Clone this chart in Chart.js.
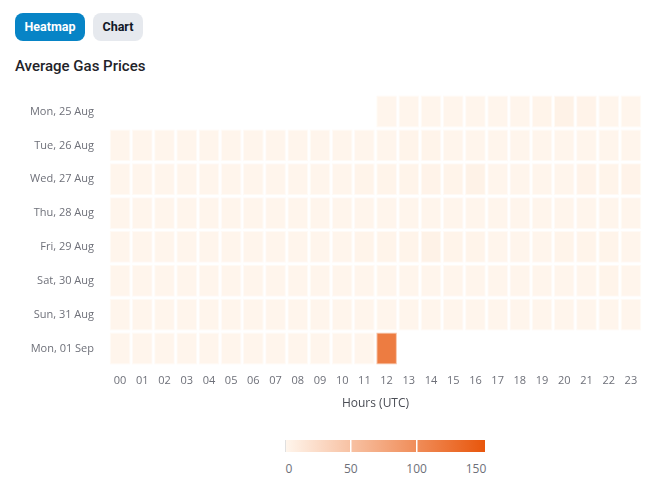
<!DOCTYPE html>
<html>
<head>
<meta charset="utf-8">
<script src="https://cdn.jsdelivr.net/npm/chart.js@4.4.1/dist/chart.umd.min.js"></script>
<style>
  html, body { margin: 0; padding: 0; background: #fff; }
  body { width: 668px; height: 500px; position: relative; overflow: hidden; font-family: Roboto, sans-serif; }
  .btn { position: absolute; top: 13px; height: 28px; border-radius: 8px; font: 700 12.5px Roboto, sans-serif; line-height: 28px; text-align: center; }
  #b1 { left: 15px; width: 70px; background: #0784c6; color: #fff; }
  #b2 { left: 93px; width: 50px; background: #e6e9ee; color: #111827; }
  #title { position: absolute; left: 15px; top: 57px; font: 500 15px Roboto, sans-serif; color: #1f2329; }
  #wrap { position: absolute; left: 0; top: 73px; width: 668px; height: 342px; }
  #legend { position: absolute; left: 285px; top: 440px; width: 200px; height: 12px; }
  .lab { position: absolute; top: 460px; font: 12px "Open Sans", sans-serif; color: #6e7079; transform: translateX(-50%); }
</style>
</head>
<body>
<div class="btn" id="b1">Heatmap</div>
<div class="btn" id="b2">Chart</div>
<div id="title">Average Gas Prices</div>
<div id="wrap"><canvas id="c" width="668" height="342"></canvas></div>
<canvas id="legend" width="200" height="12"></canvas>
<div id="legendLabels"></div>
<script>
const hours = ["00","01","02","03","04","05","06","07","08","09","10","11","12","13","14","15","16","17","18","19","20","21","22","23"];
const days = ["Mon, 25 Aug","Tue, 26 Aug","Wed, 27 Aug","Thu, 28 Aug","Fri, 29 Aug","Sat, 30 Aug","Sun, 31 Aug","Mon, 01 Sep"];
const N = null;
const mon25 = [N,N,N,N,N,N,N,N,N,N,N,N, 1,1,1,1,1,1,1,2,4,3,1,1];
const tue26 = [1,1,1,1,1,1,1,1,1,1,1,1, 1,2,2,1,1,1,1,1,1,1,1,1];
const wed27 = [1,1,1,1,1,1,1,1,1,1,1,2, 2,2,3,2,4,1,1,1,1,3,2,3];
const thu28 = [1,1,1,1,1,1,1,1,1,1,1,1, 1,1,1,1,1,1,1,1,1,1,1,1];
const fri29 = [1,1,1,1,1,1,1,1,1,1,1,2, 2,2,4,2,2,1,1,1,2,2,2,1];
const sat30 = [1,1,1,1,1,1,1,1,1,1,1,1, 1,1,1,1,1,1,1,1,1,1,2,1];
const sun31 = [1,1,1,1,1,1,1,1,1,1,1,1, 1,1,1,1,1,1,1,1,1,1,1,1];
const sep01 = [1,1,1,1,1,1,1,1,1,1,1,1, 116,N,N,N,N,N,N,N,N,N,N,N];
const rows = [mon25, tue26, wed27, thu28, fri29, sat30, sun31, sep01];
const legendTicks = [0, 50, 100, 150];
const scaleMax = 152;

const lo = [255, 246, 237], hi = [232, 86, 12];
function colorFor(v, a) {
  const t = Math.max(0, Math.min(1, v / scaleMax));
  const c = lo.map((l, i) => Math.round(l + (hi[i] - l) * t));
  return `rgba(${c[0]},${c[1]},${c[2]},${a})`;
}

const datasets = rows.map((vals, r) => ({
  label: days[r],
  data: vals.map(v => v === null ? null : [r - 0.47, r + 0.47]),
  backgroundColor: vals.map(v => v === null ? 'transparent' : colorFor(v, 1)),
  borderColor: vals.map(v => v === null ? 'transparent' : colorFor(v, 0.45)),
  borderWidth: 1,
  borderSkipped: false,
  grouped: false,
  barPercentage: 0.93,
  categoryPercentage: 1
}));

const tickFont = { family: "'Open Sans', sans-serif", size: 11 };
new Chart(document.getElementById('c'), {
  type: 'bar',
  data: { labels: hours, datasets },
  options: {
    responsive: false,
    animation: false,
    layout: { padding: { left: 0, right: 26, top: 0, bottom: 0 } },
    plugins: { legend: { display: false }, tooltip: { enabled: false } },
    scales: {
      x: {
        grid: { display: false, drawTicks: false },
        border: { display: false },
        ticks: { color: '#6e7079', font: tickFont, padding: 9, maxRotation: 0, autoSkip: false },
        title: { display: true, text: 'Hours (UTC)', color: '#4a4d55', font: { family: "'Open Sans', sans-serif", size: 12 }, padding: { top: 0 } }
      },
      y: {
        reverse: true,
        min: -0.5, max: days.length - 0.5,
        grid: { display: false, drawTicks: false },
        border: { display: false },
        afterBuildTicks: ax => { ax.ticks = days.map((_, i) => ({ value: i })); },
        afterFit: ax => { ax.width = 109; },
        ticks: { color: '#6e7079', font: tickFont, padding: 15, callback: v => days[v] }
      }
    }
  }
});

// color scale legend
const lg = document.getElementById('legend').getContext('2d');
const grad = lg.createLinearGradient(0, 0, 200, 0);
grad.addColorStop(0, colorFor(0, 1));
grad.addColorStop(1, colorFor(scaleMax, 1));
lg.fillStyle = grad;
lg.fillRect(0, 0, 200, 12);
lg.fillStyle = '#e0e0e0';
lg.fillRect(0, 0, 1, 12);
lg.fillStyle = '#ffffff';
legendTicks.slice(1, 3).forEach(t => { lg.fillRect(Math.round(t / scaleMax * 200) - 1, 0, 1.5, 12); });
const ll = document.getElementById('legendLabels');
legendTicks.forEach(t => {
  const d = document.createElement('div');
  d.className = 'lab';
  d.textContent = t;
  const x = Math.min(285 + t / scaleMax * 200, 476);
  d.style.left = (t === 0 ? 289 : x) + 'px';
  ll.appendChild(d);
});
</script>
</body>
</html>
